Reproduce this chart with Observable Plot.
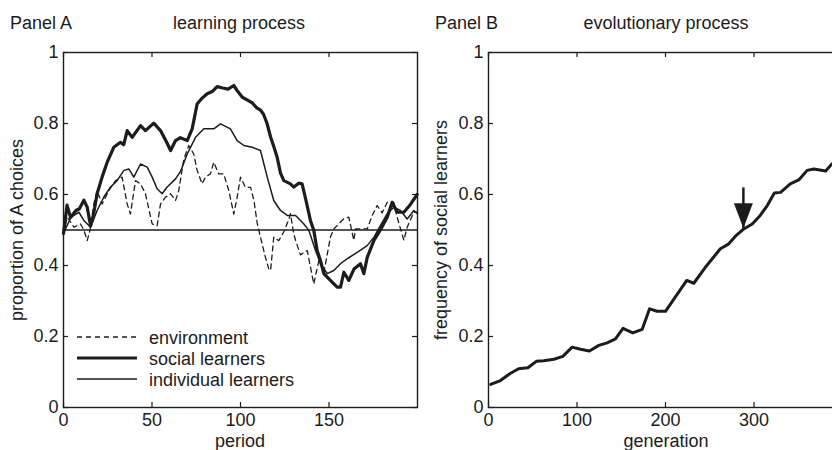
<!DOCTYPE html>
<html>
<head>
<meta charset="utf-8">
<script src="https://cdn.jsdelivr.net/npm/d3@7"></script>
<script src="https://cdn.jsdelivr.net/npm/@observablehq/plot@0.6"></script>
<style>
html, body { margin: 0; padding: 0; background: #fff; overflow: hidden; }
#root { position: relative; width: 832px; height: 450px; overflow: hidden; background: #fff; }
#root svg { position: absolute; top: 0; max-width: none; }
</style>
</head>
<body>
<div id="root"></div>
<script>
// ---------- data ----------
const periodTicks = [0, 50, 100, 150];
const generationTicks = [0, 100, 200, 300];
const shareTicks = [0, 0.2, 0.4, 0.6, 0.8, 1];
const shareTickLabels = ["0", "0.2", "0.4", "0.6", "0.8", "1"];
const neutralLevel = [0.5];

const socialPeriod = [0, 2, 4, 7, 9, 11.5, 13.4, 15.3, 17, 19, 21.8, 24.7, 28.4, 32.2, 34, 36, 38.8, 43.5, 46.3, 51, 54.8, 58, 60.5, 63.3, 66, 69.9, 72.7, 75.5, 78, 81.2, 84, 86.8, 90, 93, 96.2, 98.5, 101, 104, 106.6, 109, 111.3, 113, 115, 117, 118.8, 120.7, 122.6, 124.5, 128.2, 130.1, 132.9, 134.8, 136.7, 139.5, 141.4, 143.3, 145.2, 147.1, 150.8, 154.6, 156.5, 158.4, 161.2, 164.1, 167.8, 169.7, 171.6, 175.4, 179.1, 182.9, 185.7, 188.5, 192.3, 196, 199.8];
const socialShare = [0.49, 0.57, 0.535, 0.555, 0.56, 0.584, 0.564, 0.512, 0.545, 0.602, 0.649, 0.691, 0.733, 0.747, 0.74, 0.78, 0.761, 0.794, 0.78, 0.801, 0.78, 0.75, 0.724, 0.752, 0.76, 0.752, 0.785, 0.855, 0.87, 0.884, 0.89, 0.904, 0.9, 0.897, 0.907, 0.89, 0.874, 0.866, 0.858, 0.845, 0.838, 0.826, 0.8, 0.762, 0.735, 0.705, 0.66, 0.639, 0.63, 0.621, 0.632, 0.63, 0.59, 0.527, 0.499, 0.442, 0.414, 0.377, 0.358, 0.339, 0.339, 0.381, 0.358, 0.39, 0.405, 0.377, 0.423, 0.471, 0.501, 0.536, 0.578, 0.55, 0.55, 0.572, 0.6];

const individualPeriod = [0, 4.2, 8.7, 11.5, 15.3, 19, 22.8, 26.6, 30.3, 34.1, 36.9, 39.7, 43.5, 47.3, 50.1, 52.9, 55.7, 58.6, 63.3, 66.1, 69.9, 74.6, 79.3, 84.9, 88.7, 94.3, 98.1, 101.9, 106.6, 111.3, 115.1, 118.8, 122.6, 126.4, 131.1, 133.9, 135.8, 138.6, 142.4, 145.2, 149, 152.7, 156.5, 160.3, 165.9, 171.6, 175.4, 179.1, 182.9, 186.6, 190.4, 194.2, 197.9, 200];
const individualShare = [0.49, 0.536, 0.55, 0.527, 0.508, 0.555, 0.593, 0.621, 0.639, 0.668, 0.672, 0.649, 0.686, 0.677, 0.649, 0.616, 0.602, 0.621, 0.644, 0.665, 0.714, 0.761, 0.785, 0.785, 0.799, 0.785, 0.752, 0.738, 0.733, 0.724, 0.649, 0.583, 0.555, 0.541, 0.541, 0.527, 0.517, 0.499, 0.442, 0.405, 0.377, 0.386, 0.405, 0.419, 0.437, 0.456, 0.48, 0.513, 0.546, 0.564, 0.555, 0.531, 0.555, 0.546];

const environmentPeriod = [0, 2.1, 5.9, 9.6, 11.5, 13.4, 15, 17.1, 19, 21.8, 25.6, 29.4, 33.1, 36, 37.8, 40.7, 43.5, 46.3, 50.1, 52.9, 54.8, 57.6, 60.5, 63.3, 65.1, 68, 70.8, 73.6, 75.5, 78.3, 80.2, 83, 84.9, 87.7, 90.5, 93.4, 96.2, 98.1, 100, 102.8, 105.7, 107.6, 109.4, 112.2, 114.1, 116, 117, 118.8, 121.6, 124.5, 127.3, 128.2, 130.1, 131.1, 133.9, 137.7, 141.4, 144.3, 147.1, 150.8, 152.7, 158.4, 161.2, 164, 165, 171.6, 174.4, 177.2, 180, 182.9, 186.6, 188.5, 192.3, 194.2, 197.9, 200];
const environmentShare = [0.49, 0.536, 0.508, 0.517, 0.5, 0.47, 0.5, 0.573, 0.611, 0.573, 0.611, 0.639, 0.649, 0.573, 0.545, 0.639, 0.63, 0.602, 0.517, 0.512, 0.573, 0.592, 0.602, 0.583, 0.611, 0.7, 0.738, 0.714, 0.668, 0.63, 0.649, 0.658, 0.691, 0.658, 0.658, 0.611, 0.545, 0.592, 0.649, 0.62, 0.62, 0.583, 0.52, 0.461, 0.423, 0.39, 0.386, 0.48, 0.47, 0.495, 0.53, 0.546, 0.489, 0.471, 0.43, 0.442, 0.348, 0.414, 0.38, 0.48, 0.503, 0.532, 0.536, 0.471, 0.503, 0.503, 0.541, 0.569, 0.548, 0.578, 0.578, 0.536, 0.471, 0.508, 0.55, 0.55];

const generation = [2.5, 13.5, 24, 34, 44.5, 54, 62.5, 74, 84, 94.5, 104, 114, 124.7, 134, 143.5, 152, 163, 173.6, 182, 190.5, 200, 211, 224, 232, 245, 262, 271.5, 280, 288.5, 298, 307, 315, 323, 330, 341, 350.6, 360, 367.6, 381, 388, 398];
const socialFrequency = [0.065, 0.076, 0.095, 0.109, 0.112, 0.13, 0.132, 0.136, 0.144, 0.17, 0.164, 0.159, 0.175, 0.182, 0.193, 0.223, 0.21, 0.22, 0.278, 0.271, 0.271, 0.311, 0.358, 0.35, 0.395, 0.447, 0.461, 0.485, 0.503, 0.517, 0.541, 0.569, 0.604, 0.606, 0.63, 0.641, 0.668, 0.672, 0.666, 0.686, 0.70];

const arrowGeneration = [288];
const arrowFrom = [0.62];
const arrowTo = [0.505];

// ---------- helpers ----------
const ink = "#1c1c1c";
const font = '"Liberation Sans", Arial, Helvetica, sans-serif';
const rows = (xs, ys) => xs.map((x, i) => ({x, y: ys[i]}));
const fmtShare = d => shareTickLabels[shareTicks.indexOf(d)] ?? "";
const TICK = 5;

// MATLAB-style box: labels outside, short tick marks pointing inward on all four sides
const boxAxes = (xTicks, frameW, frameH) => [
  Plot.axisX({ticks: xTicks, anchor: "bottom", tickSize: 0, tickPadding: 6, tickFormat: d => String(d), label: null, fill: ink}),
  Plot.axisY({ticks: shareTicks, anchor: "left", tickSize: 0, tickPadding: 5, tickFormat: fmtShare, label: null, fill: ink}),
  Plot.ruleX(xTicks, {x: d => d, insetTop: frameH - TICK, stroke: ink, strokeWidth: 1.2}),
  Plot.ruleX(xTicks, {x: d => d, insetBottom: frameH - TICK, stroke: ink, strokeWidth: 1.2}),
  Plot.ruleY(shareTicks, {y: d => d, insetRight: frameW - TICK, stroke: ink, strokeWidth: 1.2}),
  Plot.ruleY(shareTicks, {y: d => d, insetLeft: frameW - TICK, stroke: ink, strokeWidth: 1.2}),
  Plot.frame({stroke: ink, strokeWidth: 1.4})
];

const style = {fontFamily: font, fontSize: "18px", background: "transparent", overflow: "visible", color: ink};

// ---------- Panel A ----------
const A = {width: 430, height: 450, marginLeft: 63, marginRight: 13, marginTop: 52, marginBottom: 43};
const panelA = Plot.plot({
  ...A,
  x: {domain: [0, 200], label: null},
  y: {domain: [0, 1], label: null},
  style,
  marks: [
    Plot.ruleY(neutralLevel, {stroke: ink, strokeWidth: 1.4}),
    Plot.line(rows(environmentPeriod, environmentShare), {x: "x", y: "y", stroke: ink, strokeWidth: 1.3, strokeDasharray: "5,4"}),
    Plot.line(rows(individualPeriod, individualShare), {x: "x", y: "y", stroke: ink, strokeWidth: 1.5, strokeLinejoin: "round"}),
    Plot.line(rows(socialPeriod, socialShare), {x: "x", y: "y", stroke: ink, strokeWidth: 3.2, strokeLinejoin: "round"}),
    ...boxAxes(periodTicks, A.width - A.marginLeft - A.marginRight, A.height - A.marginTop - A.marginBottom)
  ]
});

// ---------- Panel B ----------
const arrowHead = {
  draw(ctx) {
    ctx.moveTo(0, 0);
    ctx.lineTo(-9.5, -25);
    ctx.lineTo(9.5, -25);
    ctx.closePath();
  }
};
const arrowRows = arrowGeneration.map((g, i) => ({g, from: arrowFrom[i], to: arrowTo[i]}));

const B = {width: 440, height: 450, marginLeft: 68, marginRight: 18, marginTop: 52, marginBottom: 43};
const panelB = Plot.plot({
  ...B,
  x: {domain: [0, 400], label: null},
  y: {domain: [0, 1], label: null},
  style,
  marks: [
    Plot.line(rows(generation, socialFrequency), {x: "x", y: "y", stroke: ink, strokeWidth: 3, strokeLinejoin: "round"}),
    Plot.link(arrowRows, {x1: "g", x2: "g", y1: "from", y2: "to", stroke: ink, strokeWidth: 2.5}),
    Plot.dot(arrowRows, {x: "g", y: "to", symbol: arrowHead, fill: ink, stroke: "none", r: 5}),
    ...boxAxes(generationTicks, B.width - B.marginLeft - B.marginRight, B.height - B.marginTop - B.marginBottom)
  ]
});

const root = document.getElementById("root");
panelA.style.left = "0px";
panelB.style.left = "420px";
root.appendChild(panelA);
root.appendChild(panelB);

// ---------- titles, axis labels, legend ----------
const overlay = d3.select(root).append("svg")
  .attr("width", 832).attr("height", 450)
  .style("left", "0px")
  .style("font-family", font).style("font-size", "18px")
  .attr("fill", ink);

const titles = [
  {text: "Panel A", x: 10, y: 29, anchor: "start"},
  {text: "learning process", x: 239, y: 29, anchor: "middle"},
  {text: "Panel B", x: 435, y: 29, anchor: "start"},
  {text: "evolutionary process", x: 666, y: 29, anchor: "middle"},
  {text: "period", x: 240, y: 447, anchor: "middle"},
  {text: "generation", x: 666, y: 447, anchor: "middle"}
];
overlay.selectAll("text.t").data(titles).join("text")
  .attr("x", d => d.x).attr("y", d => d.y).attr("text-anchor", d => d.anchor).text(d => d.text);

const yLabels = [
  {text: "proportion of A choices", x: 23, y: 230},
  {text: "frequency of social learners", x: 447, y: 230}
];
overlay.selectAll("text.yl").data(yLabels).join("text")
  .attr("transform", d => `translate(${d.x},${d.y}) rotate(-90)`)
  .attr("text-anchor", "middle").text(d => d.text);

const legendItems = [
  {text: "environment", width: 1.3, dash: "5,4", y: 337},
  {text: "social learners", width: 3.2, dash: null, y: 358},
  {text: "individual learners", width: 1.5, dash: null, y: 379}
];
const lg = overlay.append("g");
lg.selectAll("line").data(legendItems).join("line")
  .attr("x1", 77).attr("x2", 137).attr("y1", d => d.y).attr("y2", d => d.y)
  .attr("stroke", ink).attr("stroke-width", d => d.width)
  .attr("stroke-dasharray", d => d.dash);
lg.selectAll("text").data(legendItems).join("text")
  .attr("x", 149).attr("y", d => d.y + 6.5).text(d => d.text);
</script>
</body>
</html>
